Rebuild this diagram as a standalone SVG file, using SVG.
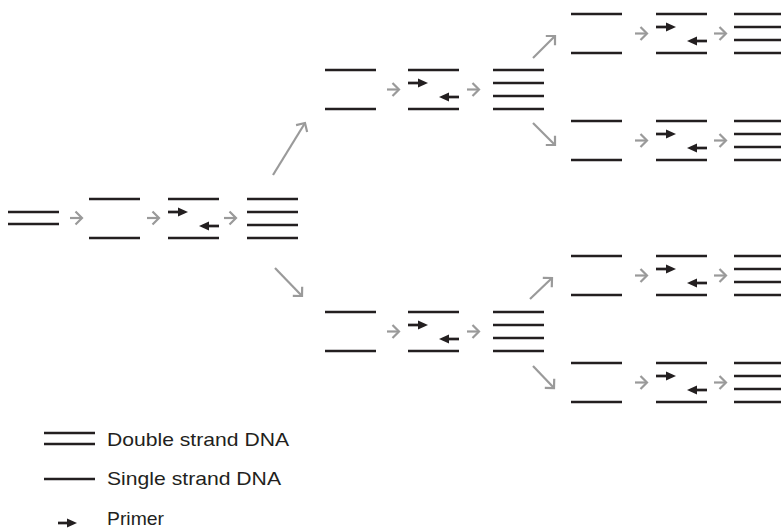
<svg xmlns="http://www.w3.org/2000/svg" xmlns:xlink="http://www.w3.org/1999/xlink" width="781" height="531" viewBox="0 0 781 531">
  <style>
    .strand { stroke: #231f20; stroke-width: 2.7; fill: none; }
    .primer { stroke: #231f20; stroke-width: 2.7; fill: none; marker-end: url(#primer-head); }
    .conn   { stroke: #9a9a9a; stroke-width: 2.2; fill: none; marker-end: url(#chevron); }
    .label  { font-family: "Liberation Sans", Arial, Helvetica, sans-serif; font-size: 19px; fill: #231f20; }
  </style>
  <defs>
    <!-- open grey chevron for the process arrows -->
    <marker id="chevron" markerUnits="userSpaceOnUse" viewBox="0 0 10 16" markerWidth="10" markerHeight="16" refX="8" refY="8" orient="auto" overflow="visible">
      <path d="M1.5,1.5 L8,8 L1.5,14.5" fill="none" stroke="#9a9a9a" stroke-width="2.2"/>
    </marker>
    <!-- solid black head for primers -->
    <marker id="primer-head" markerUnits="userSpaceOnUse" viewBox="0 0 10 9" markerWidth="10" markerHeight="9" refX="5" refY="4.5" orient="auto" overflow="visible">
      <path d="M0,0 L10,4.5 L0,9 z" fill="#231f20"/>
    </marker>
    <!-- two separated single strands -->
    <g id="single">
      <line class="strand" x1="0" y1="0" x2="51" y2="0"/>
      <line class="strand" x1="0" y1="39" x2="51" y2="39"/>
    </g>
    <!-- single strands with annealed primers -->
    <g id="primed">
      <line class="strand" x1="0" y1="0" x2="51" y2="0"/>
      <line class="strand" x1="0" y1="39" x2="51" y2="39"/>
      <line class="primer" x1="0" y1="13" x2="15" y2="13"/>
      <line class="primer" x1="51" y1="27" x2="36" y2="27"/>
    </g>
    <!-- two double strands after extension -->
    <g id="four">
      <line class="strand" x1="0" y1="0" x2="51" y2="0"/>
      <line class="strand" x1="0" y1="13" x2="51" y2="13"/>
      <line class="strand" x1="0" y1="26" x2="51" y2="26"/>
      <line class="strand" x1="0" y1="39" x2="51" y2="39"/>
    </g>
  </defs>

  <rect width="781" height="531" fill="#ffffff"/>

  <!-- cycle 1 -->
  <g id="template">
    <line class="strand" x1="8" y1="212" x2="59" y2="212"/>
    <line class="strand" x1="8" y1="224" x2="59" y2="224"/>
  </g>
  <g id="c1-denature"><use xlink:href="#single" x="89" y="199"/></g>
  <g id="c1-anneal"><use xlink:href="#primed" x="168" y="199"/></g>
  <g id="c1-extend"><use xlink:href="#four" x="247" y="199"/></g>

  <!-- cycle 2, upper branch -->
  <g id="c2a-denature"><use xlink:href="#single" x="325" y="70"/></g>
  <g id="c2a-anneal"><use xlink:href="#primed" x="408" y="70"/></g>
  <g id="c2a-extend"><use xlink:href="#four" x="493" y="70"/></g>

  <!-- cycle 2, lower branch -->
  <g id="c2b-denature"><use xlink:href="#single" x="325" y="312"/></g>
  <g id="c2b-anneal"><use xlink:href="#primed" x="408" y="312"/></g>
  <g id="c2b-extend"><use xlink:href="#four" x="493" y="312"/></g>

  <!-- cycle 3 -->
  <g id="c3a-denature"><use xlink:href="#single" x="571" y="14"/></g>
  <g id="c3a-anneal"><use xlink:href="#primed" x="656" y="14"/></g>
  <g id="c3a-extend"><use xlink:href="#four" x="734" y="14"/></g>

  <g id="c3b-denature"><use xlink:href="#single" x="571" y="121"/></g>
  <g id="c3b-anneal"><use xlink:href="#primed" x="656" y="121"/></g>
  <g id="c3b-extend"><use xlink:href="#four" x="734" y="121"/></g>

  <g id="c3c-denature"><use xlink:href="#single" x="571" y="256"/></g>
  <g id="c3c-anneal"><use xlink:href="#primed" x="656" y="256"/></g>
  <g id="c3c-extend"><use xlink:href="#four" x="734" y="256"/></g>

  <g id="c3d-denature"><use xlink:href="#single" x="571" y="363"/></g>
  <g id="c3d-anneal"><use xlink:href="#primed" x="656" y="363"/></g>
  <g id="c3d-extend"><use xlink:href="#four" x="734" y="363"/></g>

  <!-- process arrows -->
  <g id="connectors">
    <line class="conn" x1="70" y1="218" x2="82" y2="218"/>
    <line class="conn" x1="147" y1="218" x2="159" y2="218"/>
    <line class="conn" x1="224" y1="218" x2="236" y2="218"/>

    <line class="conn" x1="273" y1="175" x2="305" y2="123"/>
    <line class="conn" x1="275" y1="268" x2="302" y2="296"/>

    <line class="conn" x1="387" y1="89.5" x2="399" y2="89.5"/>
    <line class="conn" x1="467" y1="89.5" x2="479" y2="89.5"/>
    <line class="conn" x1="387" y1="331.5" x2="399" y2="331.5"/>
    <line class="conn" x1="467" y1="331.5" x2="479" y2="331.5"/>

    <line class="conn" x1="533" y1="58" x2="555" y2="36"/>
    <line class="conn" x1="533" y1="123" x2="555" y2="145"/>
    <line class="conn" x1="530" y1="299" x2="552" y2="278"/>
    <line class="conn" x1="533" y1="366" x2="554" y2="388"/>

    <line class="conn" x1="635" y1="33.5" x2="647" y2="33.5"/>
    <line class="conn" x1="714" y1="33.5" x2="726" y2="33.5"/>
    <line class="conn" x1="635" y1="140.5" x2="647" y2="140.5"/>
    <line class="conn" x1="714" y1="140.5" x2="726" y2="140.5"/>
    <line class="conn" x1="635" y1="275.5" x2="647" y2="275.5"/>
    <line class="conn" x1="714" y1="275.5" x2="726" y2="275.5"/>
    <line class="conn" x1="635" y1="382.5" x2="647" y2="382.5"/>
    <line class="conn" x1="714" y1="382.5" x2="726" y2="382.5"/>
  </g>

  <!-- key -->
  <g id="legend">
    <line class="strand" x1="44" y1="433" x2="95" y2="433"/>
    <line class="strand" x1="44" y1="444" x2="95" y2="444"/>
    <text class="label" x="107" y="446" textLength="182" lengthAdjust="spacingAndGlyphs">Double strand DNA</text>

    <line class="strand" x1="44" y1="479" x2="95" y2="479"/>
    <text class="label" x="107" y="485" textLength="174" lengthAdjust="spacingAndGlyphs">Single strand DNA</text>

    <line class="primer" x1="58" y1="523" x2="72" y2="523"/>
    <text class="label" x="107" y="525" textLength="57" lengthAdjust="spacingAndGlyphs">Primer</text>
  </g>
</svg>
